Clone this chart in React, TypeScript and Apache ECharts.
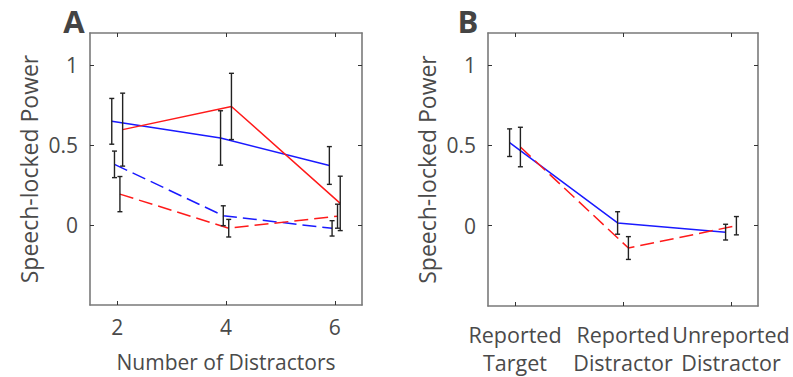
import React, { useEffect, useRef } from "react";
import * as echarts from "echarts";

// Panel A: x = number of distractors
const distractors = [2, 4, 6];
const blueSolidA = [0.648, 0.544, 0.372];
const blueSolidAErr = [0.143, 0.17, 0.118];
const redSolidA = [0.596, 0.741, 0.135];
const redSolidAErr = [0.228, 0.207, 0.17];
const blueDashedA = [0.379, 0.058, -0.021];
const blueDashedAErr = [0.083, 0.062, 0.048];
const redDashedA = [0.193, -0.02, 0.055];
const redDashedAErr = [0.11, 0.055, 0.075];

// Panel B: categories
const categoriesB = ["Reported\nTarget", "Reported\nDistractor", "Unreported\nDistractor"];
const catPosB = [1, 2, 3];
const blueSolidB = [0.517, 0.017, -0.04];
const blueSolidBErr = [0.086, 0.07, 0.049];
const redDashedB = [0.49, -0.139, 0.0];
const redDashedBErr = [0.123, 0.071, 0.057];

const yTicks = [0, 0.5, 1];
const yTickLabels = ["0", "0.5", "1"];
const xTicksA = [2, 4, 6];

const FONT = "'Open Sans', sans-serif";
const TEXT = "#4a4a4a";
const AXIS = "#7a7a7a";

export default function App() {
  const ref = useRef<HTMLDivElement>(null);
  useEffect(() => {
    if (!ref.current) return;
    const chart = echarts.init(ref.current, null, { renderer: "svg" });

    const pts = (xs: number[], ys: number[], off: number) => xs.map((x, i) => [x + off, ys[i]]);
    const errs = (xs: number[], ys: number[], es: number[], off: number) =>
      xs.map((x, i) => [x + off, ys[i] - es[i], ys[i] + es[i]]);

    const errorSeries = (data: number[][], xi: number, yi: number) => ({
      type: "custom",
      xAxisIndex: xi,
      yAxisIndex: yi,
      z: 5,
      encode: { x: 0, y: [1, 2] },
      data,
      renderItem: (params: any, api: any) => {
        const x = api.value(0);
        const lo = api.coord([x, api.value(1)]);
        const hi = api.coord([x, api.value(2)]);
        const w = 2.5;
        const st = { stroke: "#222", lineWidth: 1.4 };
        return {
          type: "group",
          children: [
            { type: "line", shape: { x1: lo[0], y1: lo[1], x2: hi[0], y2: hi[1] }, style: st },
            { type: "line", shape: { x1: lo[0] - w, y1: lo[1], x2: lo[0] + w, y2: lo[1] }, style: st },
            { type: "line", shape: { x1: hi[0] - w, y1: hi[1], x2: hi[0] + w, y2: hi[1] }, style: st },
          ],
        };
      },
    });

    const lineSeries = (data: number[][], color: string, dashed: boolean, xi: number, yi: number) => ({
      type: "line",
      xAxisIndex: xi,
      yAxisIndex: yi,
      data,
      symbol: "none",
      z: 3,
      lineStyle: { color, width: 1.5, type: dashed ? [14, 6] : "solid" },
    });

    const baseAxisLine = { show: true, onZero: false, lineStyle: { color: AXIS, width: 1.6 } };
    const tickStyle = { inside: true, length: 4, lineStyle: { color: "#333", width: 1 } };

    const mkX = (grid: number, min: number, max: number, vals: number[], pos: string, showLabel: boolean, extra: any = {}) => ({
      type: "value",
      gridIndex: grid,
      position: pos,
      offset: 0,
      min,
      max,
      axisLine: baseAxisLine,
      axisTick: { ...tickStyle, customValues: vals },
      splitLine: { show: false },
      axisLabel: {
        show: showLabel,
        customValues: extra.labelValues || vals,
        fontFamily: FONT,
        fontSize: 21,
        color: TEXT,
        margin: 11,
        ...(extra.axisLabel || {}),
      },
      ...(extra.rest || {}),
    });

    const mkY = (grid: number, pos: string, showLabel: boolean, withName: boolean) => ({
      type: "value",
      gridIndex: grid,
      position: pos,
      min: -0.5,
      max: 1.2,
      axisLine: baseAxisLine,
      axisTick: { ...tickStyle, customValues: yTicks },
      splitLine: { show: false },
      axisLabel: {
        show: showLabel,
        customValues: yTicks,
        fontFamily: FONT,
        fontSize: 21,
        color: TEXT,
        margin: 12,
        formatter: (v: number) => yTickLabels[yTicks.indexOf(v)] ?? String(v),
      },
      name: withName ? "Speech-locked Power" : "",
      nameLocation: "middle",
      nameGap: 50,
      nameRotate: 90,
      nameTextStyle: { fontFamily: FONT, fontSize: 23, color: TEXT },
    });

    const catLabelB = {
      margin: 14,
      fontSize: 21.5,
      lineHeight: 28,
      formatter: (v: number) => categoriesB[catPosB.indexOf(v)] ?? "",
    };

    const option: any = {
      animation: false,
      backgroundColor: "#fff",
      grid: [
        { left: 90, top: 33, width: 272, height: 273 },
        { left: 488, top: 33, width: 270, height: 273 },
      ],
      xAxis: [
        mkX(0, 1.5, 6.5, xTicksA, "bottom", true, {
          rest: {
            name: "Number of Distractors",
            nameLocation: "middle",
            nameGap: 46,
            nameTextStyle: { fontFamily: FONT, fontSize: 21, color: TEXT },
          },
        }),
        mkX(0, 1.5, 6.5, xTicksA, "top", false),
        // panel B bottom axis: outer category labels
        mkX(1, 0.75, 3.25, catPosB, "bottom", true, {
          labelValues: [catPosB[0], catPosB[2]],
          axisLabel: catLabelB,
        }),
        mkX(1, 0.75, 3.25, catPosB, "top", false),
        // panel B: middle category label on an overlaid axis
        {
          ...mkX(1, 0.75, 3.25, catPosB, "bottom", true, {
            labelValues: [catPosB[1]],
            axisLabel: catLabelB,
          }),
          axisLine: { show: false, onZero: false },
          axisTick: { show: false },
        },
      ],
      yAxis: [
        mkY(0, "left", true, true),
        mkY(0, "right", false, false),
        mkY(1, "left", true, true),
        mkY(1, "right", false, false),
      ],
      graphic: [
        {
          type: "text",
          x: 74,
          y: 21,
          style: { text: "A", font: `bold 31px ${FONT}`, fill: "#444", align: "center", verticalAlign: "middle" },
        },
        {
          type: "text",
          x: 468,
          y: 21,
          style: { text: "B", font: `bold 31px ${FONT}`, fill: "#444", align: "center", verticalAlign: "middle" },
        },
      ],
      series: [
        lineSeries(pts(distractors, blueSolidA, -0.1), "#1a1aff", false, 0, 0),
        lineSeries(pts(distractors, redSolidA, 0.1), "#ff1a1a", false, 0, 0),
        lineSeries(pts(distractors, blueDashedA, -0.05), "#1a1aff", true, 0, 0),
        lineSeries(pts(distractors, redDashedA, 0.05), "#ff1a1a", true, 0, 0),
        errorSeries(errs(distractors, blueSolidA, blueSolidAErr, -0.1), 0, 0),
        errorSeries(errs(distractors, redSolidA, redSolidAErr, 0.1), 0, 0),
        errorSeries(errs(distractors, blueDashedA, blueDashedAErr, -0.05), 0, 0),
        errorSeries(errs(distractors, redDashedA, redDashedAErr, 0.05), 0, 0),
        lineSeries(pts(catPosB, blueSolidB, -0.05), "#1a1aff", false, 2, 2),
        lineSeries(pts(catPosB, redDashedB, 0.05), "#ff1a1a", true, 2, 2),
        errorSeries(errs(catPosB, blueSolidB, blueSolidBErr, -0.05), 2, 2),
        errorSeries(errs(catPosB, redDashedB, redDashedBErr, 0.05), 2, 2),
      ],
    };
    chart.setOption(option);
    return () => chart.dispose();
  }, []);

  return (
    <div
      ref={ref}
      style={{ position: "fixed", left: 0, top: 0, width: 793, height: 377, background: "#fff" }}
    />
  );
}
